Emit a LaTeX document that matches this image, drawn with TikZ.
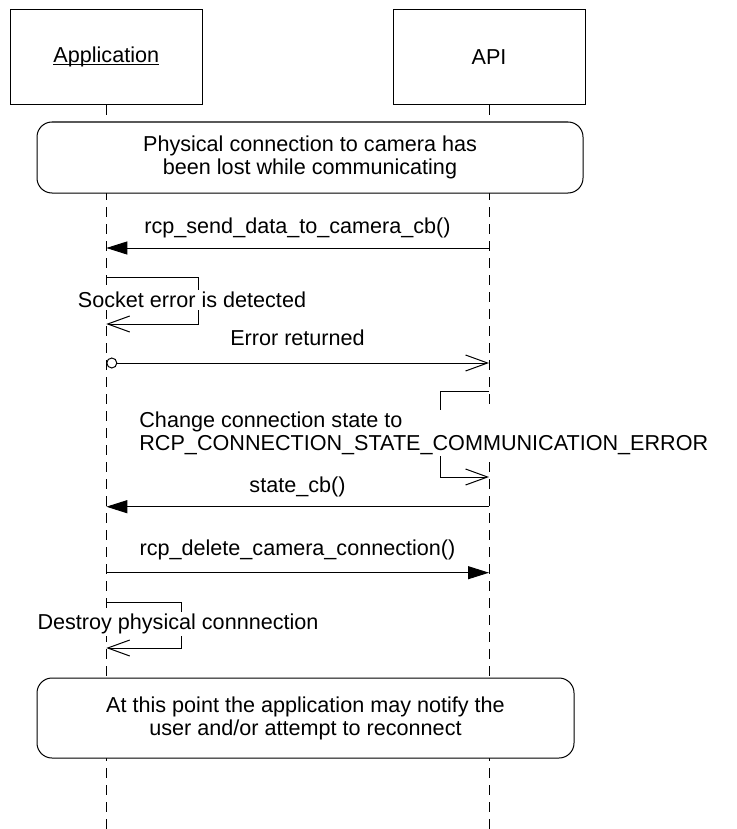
\documentclass[tikz,border=0pt]{standalone}
\usepackage{fontspec}
\setmainfont{Liberation Sans}
\usetikzlibrary{arrows.meta}
\newcommand\ulname[1]{\setbox0\hbox{#1}\rlap{\rule[-1.3pt]{\wd0}{0.5pt}}\box0}

\begin{document}
\begin{tikzpicture}[x=0.5pt,y=-0.5pt,
	every node/.style={font=\fontsize{10.8}{11.5}\selectfont},
	actor/.style={draw,line width=0.5pt,minimum width=96pt,minimum height=47.8pt},
	lifeline/.style={line width=0.5pt,dash pattern=on 5pt off 3.5pt},
	note/.style={draw,fill=white,line width=0.5pt,rounded corners=7.5pt,align=center},
	call/.style={line width=0.5pt,-{Triangle[length=10.5pt,width=6.5pt]}},
	reply/.style={line width=0.5pt,-{Straight Barb[length=11pt,width=8pt]}},
	lbl/.style={fill=white,inner sep=1pt}]
	\useasboundingbox (0,0) rectangle (737,829);
	% actors and lifelines
	\node[actor] (app) at (106.3,57) {\ulname{Application}};
	\node[actor] (api) at (489,57) {API};
	\coordinate (bottom) at (0,829);
	\draw[lifeline] (app.south) -- (app.south |- bottom);
	\draw[lifeline] (api.south) -- (api.south |- bottom);
	\node[note,minimum width=273pt,minimum height=35.5pt] (lost) at (310,157.5) {Physical connection to camera has\\been lost while communicating};
	% messages
	\node (send) at (297.5,228) {rcp\_send\_data\_to\_camera\_cb()};
	\draw[call] (api |- 0,248) -- (app |- 0,248);
	\draw[reply] (app |- 0,277) -| (198,324) -- (app |- 0,324);
	\node[lbl] (sock) at (192,300) {Socket error is detected};
	\node (err) at (297.5,338) {Error returned};
	\draw[line width=0.5pt,{Circle[open,length=5.5pt]}-{Straight Barb[length=11pt,width=8pt]}] (app |- 0,363) -- (api |- 0,363);
	\draw[reply] (api |- 0,391) -| (440,477) -- (api |- 0,477);
	\node[lbl,anchor=west,align=left] (chg) at (137,433) {Change connection state to\\RCP\_CONNECTION\_STATE\_COMMUNICATION\_ERROR};
	\node (state) at (297.5,487) {state\_cb()};
	\draw[call] (api |- 0,506.7) -- (app |- 0,506.7);
	\node (del) at (297.5,550) {rcp\_delete\_camera\_connection()};
	\draw[call] (app |- 0,572.7) -- (api |- 0,572.7);
	\draw[reply] (app |- 0,602) -| (181,648) -- (app |- 0,648);
	\node[lbl] (destroy) at (178,624) {Destroy physical connnection};
	\node[note,minimum width=268.5pt,minimum height=40pt] (notify) at (305.5,718) {At this point the application may notify the\\user and/or attempt to reconnect};
\end{tikzpicture}
\end{document}
